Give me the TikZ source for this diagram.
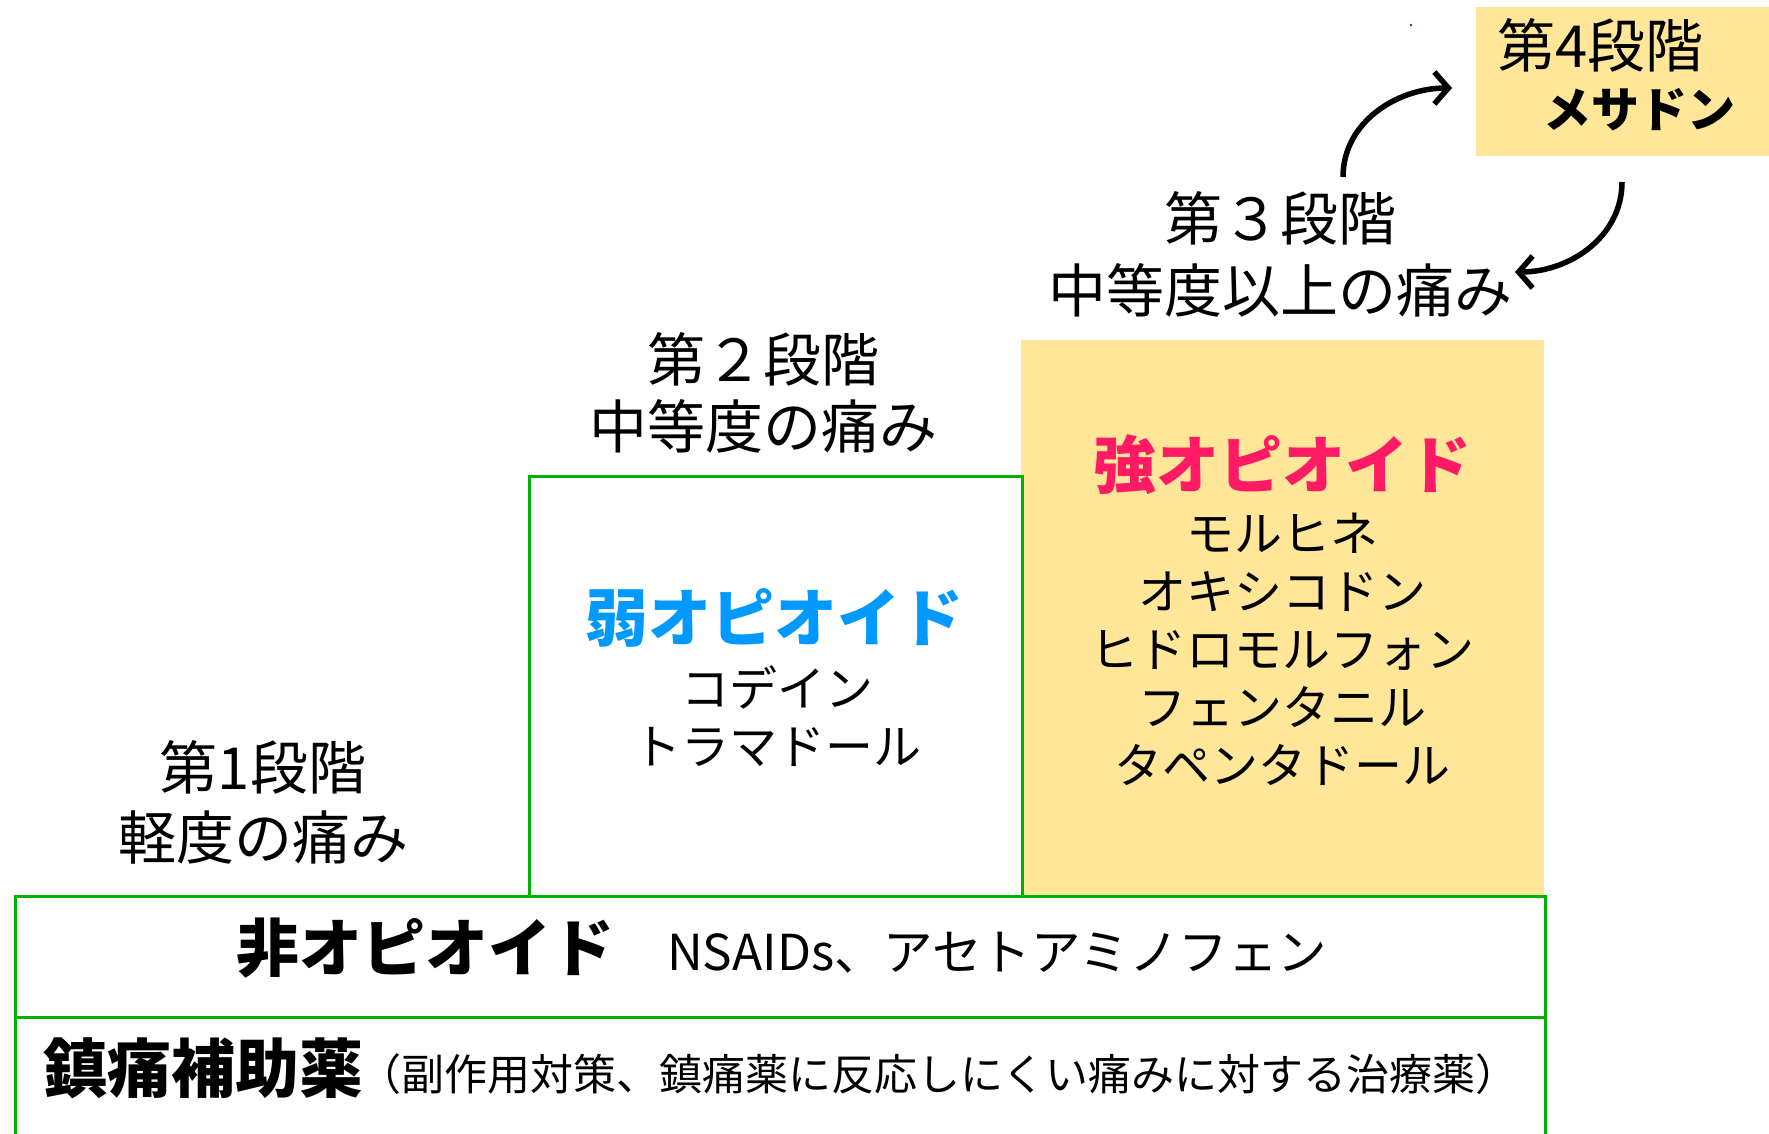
\documentclass[tikz,border=0pt]{standalone}
\usepackage{fontspec}
\setmainfont{Noto Sans CJK JP}
\usetikzlibrary{arrows.meta}
\definecolor{ylw}{HTML}{FFE699}
\definecolor{grn}{RGB}{0,178,0}
\definecolor{pnk}{RGB}{255,26,102}
\definecolor{blu}{RGB}{0,153,255}
\tikzset{
  box/.style={draw=grn, line width=2.5pt, anchor=north west, inner sep=0pt},
  fillbox/.style={fill=ylw, anchor=north west, inner sep=0pt},
  lab/.style={inner sep=0pt, font=\fontsize{58}{70}\selectfont},
  title/.style={inner sep=0pt, font=\fontsize{63}{70}\selectfont\bfseries},
  list/.style={inner sep=0pt, align=center, font=\fontsize{48}{58}\selectfont},
  arr/.style={line width=5.5pt, -{Straight Barb[length=14pt,width=32pt]}}
}
\begin{document}
\begin{tikzpicture}[x=1pt,y=-1pt]
\path[use as bounding box] (0,0) rectangle (1769,1133);
% boxes
\node[fillbox, minimum width=523pt, minimum height=556pt] (strong) at (1021,340) {};
\node[fillbox, minimum width=300pt, minimum height=149pt] (st4) at (1476,7) {};
\node[box, minimum width=493pt, minimum height=420pt] (weak) at (528,475) {};
\node[box, minimum width=1530pt, minimum height=121pt] (nonop) at (14,895) {};
\node[box, minimum width=1530pt, minimum height=140pt] (adj) at (14,1016) {};
\fill[black!60!green] (1411,25) circle (1.3pt);
% stage labels
\node[lab] (s1a) at (263,767) {第1段階};
\node[lab] (s1b) at (263,837) {軽度の痛み};
\node[lab] (s2a) at (763,359) {第２段階};
\node[lab] (s2b) at (763,426) {中等度の痛み};
\node[lab] (s3a) at (1280,218) {第３段階};
\node[lab] (s3b) at (1280,290) {中等度以上の痛み};
\node[lab, anchor=west] (s4a) at (1497,45) {第4段階};
\node[inner sep=0pt, anchor=west, font=\fontsize{48}{60}\selectfont\bfseries] (s4b) at (1543,110) {メサドン};
% strong opioid
\node[title, text=pnk] (strt) at (1282,465) {強オピオイド};
\node[list] (strl) at (1282,649) {モルヒネ\\オキシコドン\\ヒドロモルフォン\\フェンタニル\\タペンタドール};
% weak opioid
\node[title, text=blu] (weakt) at (774,618) {弱オピオイド};
\node[list] (weakl) at (777,716) {コデイン\\トラマドール};
% non opioid
\node[title] (nont) at (425,948) {非オピオイド};
\node[inner sep=0pt, anchor=west, font=\fontsize{49.5}{58}\selectfont] (nonl) at (667,953) {NSAIDs、アセトアミノフェン};
% adjuvant
\node[inner sep=0pt, font=\fontsize{64}{70}\selectfont\bfseries] (adjt) at (203,1068) {鎮痛補助薬};
\node[inner sep=0pt, anchor=west, font=\fontsize{43}{50}\selectfont] (adjl) at (358,1074) {（副作用対策、鎮痛薬に反応しにくい痛みに対する治療薬）};
% arrows
\coordinate (a1s) at (1343,177);
\coordinate (a1e) at (1452,88);
\coordinate (a2s) at (1622,182);
\coordinate (a2e) at (1515,272);
\draw[arr] (a1s) to[out=90,in=180] (a1e);
\draw[arr] (a2s) to[out=-90,in=0] (a2e);
\end{tikzpicture}
\end{document}
